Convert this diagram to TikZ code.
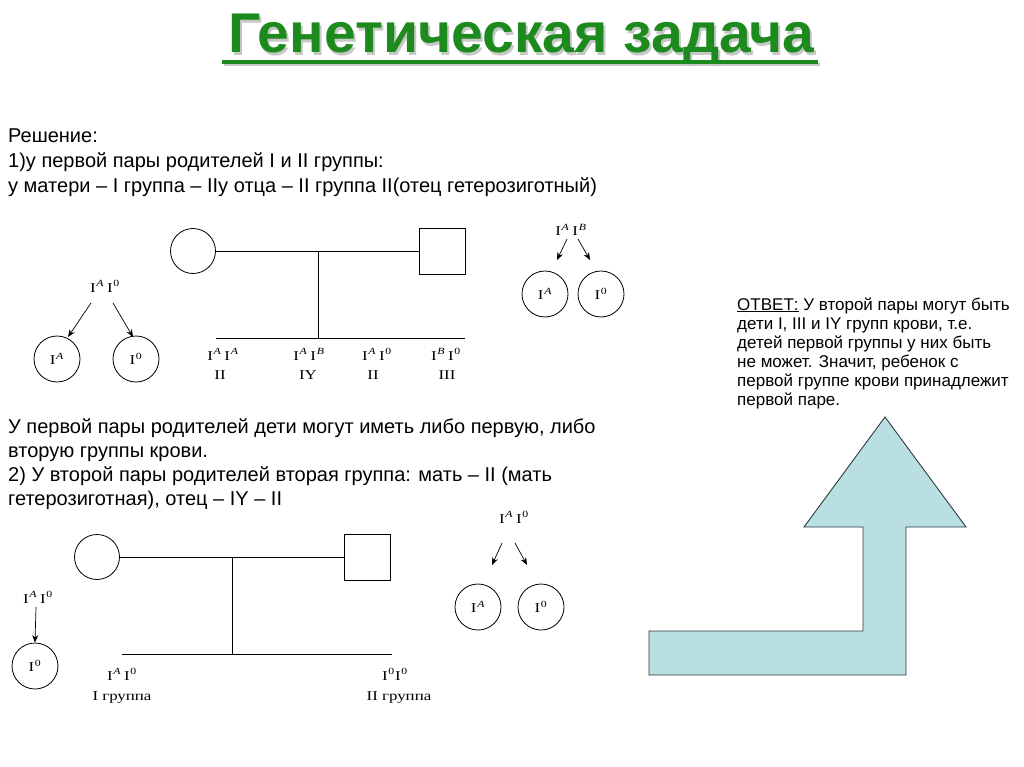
\documentclass[tikz,border=0pt]{standalone}
\usepackage{fontspec}
\setmainfont{Liberation Sans}
\newfontfamily\tms{Liberation Serif}
\usetikzlibrary{arrows.meta}
\definecolor{ttlgreen}{RGB}{28,138,28}
\definecolor{arrfill}{RGB}{185,223,227}
\definecolor{arrline}{RGB}{45,60,60}
\newcommand{\gI}[1]{I\textsuperscript{\kern0.6pt#1}}
\newcommand{\gs}[1]{\scalebox{1.25}[1]{#1}}
\newcommand{\ttltext}{\scalebox{1.02}[1]{Генетическая задача}}
\begin{document}
\begin{tikzpicture}[x=1pt,y=-1pt,
  txt/.style={inner sep=0pt,anchor=base west,font=\fontsize{20}{24}\selectfont},
  ans/.style={inner sep=0pt,anchor=base west,font=\fontsize{17}{19}\selectfont},
  gen/.style={inner sep=0pt,anchor=base,font=\tms\fontsize{13.5}{15}\selectfont},
  female/.style={circle,draw,line width=0.8pt,minimum size=45pt,inner sep=0pt},
  male/.style={rectangle,draw,line width=0.8pt,minimum size=46pt,inner sep=0pt},
  gam/.style={circle,draw,line width=0.8pt,minimum size=46pt,inner sep=0pt,font=\tms\fontsize{13.5}{15}\selectfont},
  ped/.style={line width=0.8pt},
  gar/.style={line width=0.7pt,-{Stealth[length=7.5pt,width=6pt]}}
]
\path[use as bounding box,fill=white] (0,0) rectangle (1024,767);

% Title (with its soft shadow in the same node)
\node[inner sep=0pt,anchor=base,font=\bfseries\fontsize{56}{60}\selectfont] (ttl) at (521.5,53)
  {\rlap{\kern2pt\raisebox{-2.5pt}{\color{black!22}\ttltext}}\textcolor{ttlgreen}{\ttltext}};
\fill[black!22] (224,63) rectangle (820,66.5);
\fill[ttlgreen] (222,60.5) rectangle (818,64.5);

% Text block 1
\node[txt] (l1) at (8,143) {Решение:};
\node[txt] (l2) at (8,168) {1)у первой пары родителей I и II группы:};
\node[txt] (l3) at (8,193) {у матери – I группа – IIу отца – II группа II(отец гетерозиготный)};

% Pedigree 1
\node[female] (m1) at (193,251) {};
\node[male] (f1) at (442,251) {};
\draw[ped] (m1.east) -- (f1.west);
\coordinate (j1) at (318,251);
\coordinate (k1) at (318,338);
\coordinate (b1l) at (216,338);
\coordinate (b1r) at (465,338);
\draw[ped] (j1) -- (k1);
\draw[ped] (b1l) -- (b1r);
\node[gen] (c1a) at (223,360) {\gs{\gI{\textit{A}}\,\gI{\textit{A}}}};
\node[gen] (c1b) at (220,379) {\gs{II}};
\node[gen] (c2a) at (309,360) {\gs{\gI{\textit{A}}\,\gI{\textit{B}}}};
\node[gen] (c2b) at (308,379) {\gs{IY}};
\node[gen] (c3a) at (377,360) {\gs{\gI{\textit{A}}\,\gI{0}}};
\node[gen] (c3b) at (373,379) {\gs{II}};
\node[gen] (c4a) at (446,360) {\gs{\gI{\textit{B}}\,\gI{0}}};
\node[gen] (c4b) at (447,379) {\gs{III}};

% Left gametes 1
\node[gen] (g1) at (105,292) {\gs{\gI{\textit{A}}\,\gI{0}}};
\node[gam] (g1a) at (57,359) {\gs{\gI{\textit{A}}}};
\node[gam] (g1b) at (136,359) {\gs{\gI{0}}};
\coordinate (g1s1) at (91,303);
\coordinate (g1e1) at (68,337);
\coordinate (g1s2) at (113,303);
\coordinate (g1e2) at (133,337);
\draw[gar] (g1s1) -- (g1e1);
\draw[gar] (g1s2) -- (g1e2);

% Right gametes 1
\node[gen] (g2) at (571,236) {\gs{\gI{\textit{A}}\,\gI{\textit{B}}}};
\node[gam] (g2a) at (545,294) {\gs{\gI{\textit{A}}}};
\node[gam] (g2b) at (601,294) {\gs{\gI{0}}};
\coordinate (g2s1) at (567,239);
\coordinate (g2e1) at (557,260);
\coordinate (g2s2) at (578,239);
\coordinate (g2e2) at (590,260);
\draw[gar] (g2s1) -- (g2e1);
\draw[gar] (g2s2) -- (g2e2);

% Answer
\node[ans] (a1) at (737,310) {\underline{ОТВЕТ:} У второй пары могут быть};
\node[ans] (a2) at (737,329) {дети I, III и IY групп крови, т.е.};
\node[ans] (a3) at (737,348) {детей первой группы у них быть};
\node[ans] (a4) at (737,367) {не может. Значит, ребенок с};
\node[ans] (a5) at (737,386) {первой группе крови принадлежит};
\node[ans] (a6) at (737,405) {первой паре.};

% Text block 2
\node[txt] (p1) at (8,433) {У первой пары родителей дети могут иметь либо первую, либо};
\node[txt] (p2) at (8,457) {вторую группы крови.};
\node[txt] (p3) at (8,481) {2) У второй пары родителей вторая группа: мать – II (мать};
\node[txt] (p4) at (8,505) {гетерозиготная), отец – IY – II};

% Pedigree 2
\node[female] (m2) at (97,557) {};
\node[male] (f2) at (367,557) {};
\draw[ped] (m2.east) -- (f2.west);
\coordinate (j2) at (232,557);
\coordinate (k2) at (232,654);
\coordinate (b2l) at (122,654);
\coordinate (b2r) at (392,654);
\draw[ped] (j2) -- (k2);
\draw[ped] (b2l) -- (b2r);
\node[gen] (d1a) at (122,680) {\gs{\gI{\textit{A}}\,\gI{0}}};
\node[gen] (d1b) at (122,700) {\gs{I группа}};
\node[gen] (d2a) at (395,680) {\gs{\gI{0}\gI{0}}};
\node[gen] (d2b) at (399,700) {\gs{II группа}};

% Left gametes 2
\node[gen] (g3) at (38,603) {\gs{\gI{\textit{A}}\,\gI{0}}};
\node[gam] (g3a) at (35,666) {\gs{\gI{0}}};
\coordinate (g3s) at (36,607);
\draw[gar] (g3s) -- (g3a.north);

% Right gametes 2
\node[gen] (g4) at (514,523) {\gs{\gI{\textit{A}}\,\gI{0}}};
\node[gam] (g4a) at (478,607) {\gs{\gI{\textit{A}}}};
\node[gam] (g4b) at (541,607) {\gs{\gI{0}}};
\coordinate (g4s1) at (502,543);
\coordinate (g4e1) at (492,565);
\coordinate (g4s2) at (515,543);
\coordinate (g4e2) at (527,565);
\draw[gar] (g4s1) -- (g4e1);
\draw[gar] (g4s2) -- (g4e2);

% Big arrow
\draw[fill=arrfill,draw=arrline,line width=0.9pt,line join=miter]
  (885,417) -- (966,527) -- (906,527) -- (906,675) -- (649,675) -- (649,631)
  -- (863,631) -- (863,527) -- (804,527) -- cycle;
\end{tikzpicture}
\end{document}
